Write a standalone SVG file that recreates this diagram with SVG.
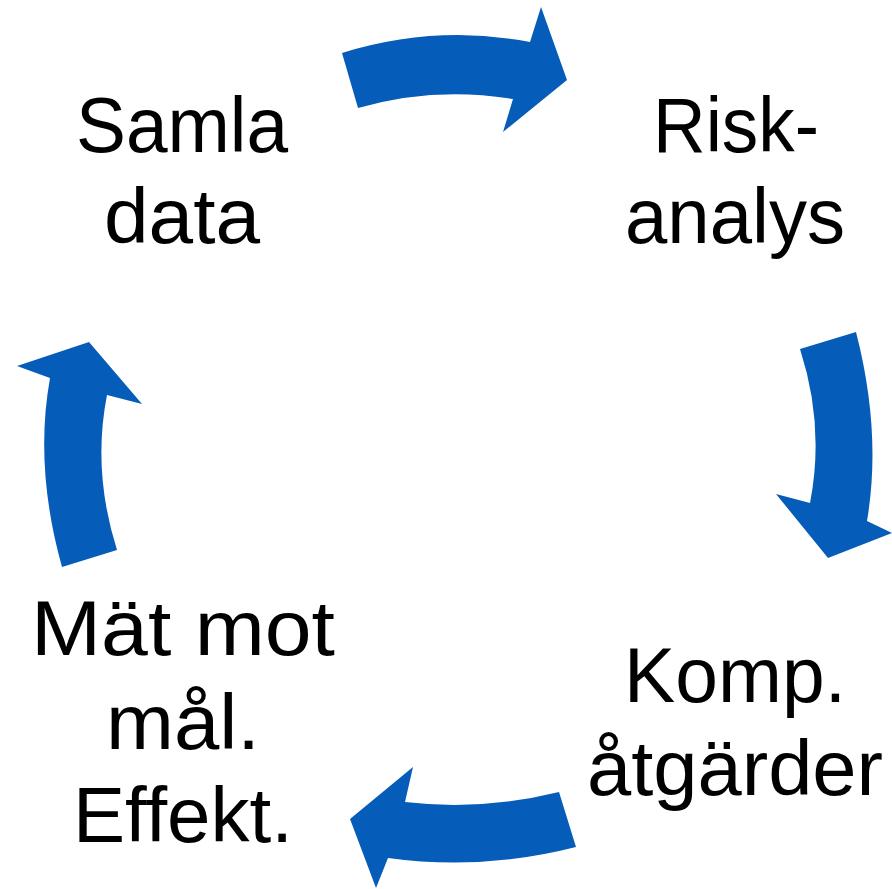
<svg xmlns="http://www.w3.org/2000/svg" width="892" height="889" viewBox="0 0 892 889">
<style>
.lbl{font-family:"Liberation Sans",Arial,sans-serif;font-size:77px;fill:#000;text-anchor:middle}
.arr{fill:#065CB9;stroke:none}
</style>
<rect width="892" height="889" fill="#fff"/>
<g id="node-samla"><text class="lbl" x="182" y="152" textLength="212" lengthAdjust="spacingAndGlyphs">Samla</text><text class="lbl" x="182" y="243" textLength="156" lengthAdjust="spacingAndGlyphs">data</text></g>
<g id="node-risk"><text class="lbl" x="736" y="152" textLength="166" lengthAdjust="spacingAndGlyphs">Risk-</text><text class="lbl" x="735" y="243" textLength="220" lengthAdjust="spacingAndGlyphs">analys</text></g>
<g id="node-komp"><text class="lbl" x="735" y="702" textLength="222" lengthAdjust="spacingAndGlyphs">Komp.</text><text class="lbl" x="735" y="795" textLength="296" lengthAdjust="spacingAndGlyphs">åtgärder</text></g>
<g id="node-mat"><text class="lbl" x="183" y="655" textLength="304" lengthAdjust="spacingAndGlyphs">Mät mot</text><text class="lbl" x="183" y="749" textLength="154" lengthAdjust="spacingAndGlyphs">mål.</text><text class="lbl" x="183" y="842" textLength="220" lengthAdjust="spacingAndGlyphs">Effekt.</text></g>
<g id="connectors">
<path class="arr" d="M342,53 Q436,24 530,42 L541,7 L567,80 L503,132 L513,99 Q434,86 358,108 Z"/>
<path class="arr" d="M800,349 L856,332 Q882,433 867,521 L892,533 L828,558 L776,494 L810,503 Q825,426 800,349 Z"/>
<path class="arr" d="M559,792 Q482,811 405,802 L413,767 L350,819 L376,888 L388,858 Q482,871 576,847 Z"/>
<path class="arr" d="M62,567 Q34,467 50,378 L17,366 L89,342 L142,404 L107,395 Q92,471 117,550 Z"/>
</g>
</svg>
